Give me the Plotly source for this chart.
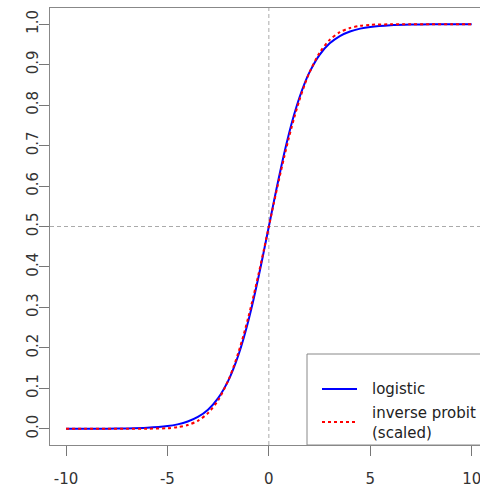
import plotly.graph_objects as go

# Sample points along x
x_values = [-10, -9, -8, -7, -6, -5, -4.5, -4, -3.5, -3, -2.5, -2, -1.75, -1.5,
            -1.25, -1, -0.75, -0.5, -0.25, 0, 0.25, 0.5, 0.75, 1, 1.25, 1.5,
            1.75, 2, 2.5, 3, 3.5, 4, 4.5, 5, 6, 7, 8, 9, 10]

# Logistic curve
logistic_values = [0.0000, 0.0001, 0.0003, 0.0009, 0.0025, 0.0067, 0.0110, 0.0180,
                   0.0293, 0.0474, 0.0759, 0.1192, 0.1480, 0.1824, 0.2227, 0.2689,
                   0.3208, 0.3775, 0.4378, 0.5000, 0.5622, 0.6225, 0.6792, 0.7311,
                   0.7773, 0.8176, 0.8520, 0.8808, 0.9241, 0.9526, 0.9707, 0.9820,
                   0.9890, 0.9933, 0.9975, 0.9991, 0.9997, 0.9999, 1.0000]

# Inverse probit, scaled
probit_values = [0.0000, 0.0000, 0.0000, 0.0000, 0.0002, 0.0016, 0.0041, 0.0093,
                 0.0198, 0.0388, 0.0707, 0.1197, 0.1517, 0.1888, 0.2311, 0.2782,
                 0.3295, 0.3843, 0.4415, 0.5000, 0.5585, 0.6157, 0.6705, 0.7218,
                 0.7689, 0.8112, 0.8483, 0.8803, 0.9293, 0.9612, 0.9802, 0.9907,
                 0.9959, 0.9984, 0.9998, 1.0000, 1.0000, 1.0000, 1.0000]

x_ticks = [-10, -5, 0, 5, 10]
y_ticks = [0.0, 0.1, 0.2, 0.3, 0.4, 0.5, 0.6, 0.7, 0.8, 0.9, 1.0]
legend_labels = ["logistic", "inverse probit", "(scaled)"]

FONT = "DejaVu Sans, Verdana, sans-serif"
FSIZE = 15
TEXT = "#333333"
FRAME = "#888888"

fig = go.Figure()

fig.add_trace(go.Scatter(
    x=x_values, y=logistic_values, mode="lines",
    line=dict(color="#0000FF", width=2, shape="spline", smoothing=0.8),
    showlegend=False, hoverinfo="skip"))

fig.add_trace(go.Scatter(
    x=x_values, y=probit_values, mode="lines",
    line=dict(color="#FF0000", width=2, dash="3px,3px", shape="spline", smoothing=0.8),
    showlegend=False, hoverinfo="skip"))

shapes = [
    # reference lines
    dict(type="line", xref="x", yref="paper", x0=0, x1=0, y0=0, y1=1,
         line=dict(color="#AAAAAA", width=1, dash="4px,3px"), layer="below"),
    dict(type="line", xref="paper", yref="y", x0=0, x1=1, y0=0.5, y1=0.5,
         line=dict(color="#AAAAAA", width=1, dash="4px,3px"), layer="below"),
]

# legend box (bottom right), drawn by hand
W, H = 480, 491
L, T, B = 50, 8, 46
PW, PH = W - L, H - T - B


def px(xp):
    return (xp - L) / PW


def py(yp):
    return (H - B - yp) / PH


shapes.append(dict(type="rect", xref="paper", yref="paper",
                   x0=px(307), x1=px(500), y0=py(H - B), y1=py(354),
                   fillcolor="white", line=dict(color=FRAME, width=1)))
shapes.append(dict(type="line", xref="paper", yref="paper",
                   x0=px(322), x1=px(357), y0=py(389), y1=py(389),
                   line=dict(color="#0000FF", width=2)))
shapes.append(dict(type="line", xref="paper", yref="paper",
                   x0=px(322), x1=px(357), y0=py(422), y1=py(422),
                   line=dict(color="#FF0000", width=2, dash="3px,3px")))

annotations = []
for label, ypix in zip(legend_labels, [389, 413, 433]):
    annotations.append(dict(text=label, xref="paper", yref="paper",
                            x=px(370), y=py(ypix), xanchor="left", yanchor="middle",
                            showarrow=False,
                            font=dict(family=FONT, size=FSIZE, color="#222222")))

fig.update_layout(
    width=W, height=H,
    margin=dict(l=L, r=0, t=T, b=B, pad=0),
    paper_bgcolor="white", plot_bgcolor="white",
    font=dict(family=FONT, size=FSIZE, color=TEXT),
    shapes=shapes, annotations=annotations,
    xaxis=dict(range=[-10.79, 10.41], tickvals=x_ticks,
               ticktext=[str(v) for v in x_ticks],
               ticks="outside", ticklen=10, tickcolor="#777777",
               ticklabelstandoff=10, ticklabeloverflow="allow",
               showline=True, linecolor=FRAME, linewidth=1, mirror=True,
               showgrid=False, zeroline=False, fixedrange=True),
    yaxis=dict(range=[-0.04, 1.04], tickvals=y_ticks,
               ticktext=[f"{v:.1f}" for v in y_ticks], tickangle=-90,
               ticks="outside", ticklen=10, tickcolor="#777777",
               ticklabelstandoff=-5,
               showline=True, linecolor=FRAME, linewidth=1,
               showgrid=False, zeroline=False, fixedrange=True),
)

fig.write_html("out.html", config={"displayModeBar": False})
